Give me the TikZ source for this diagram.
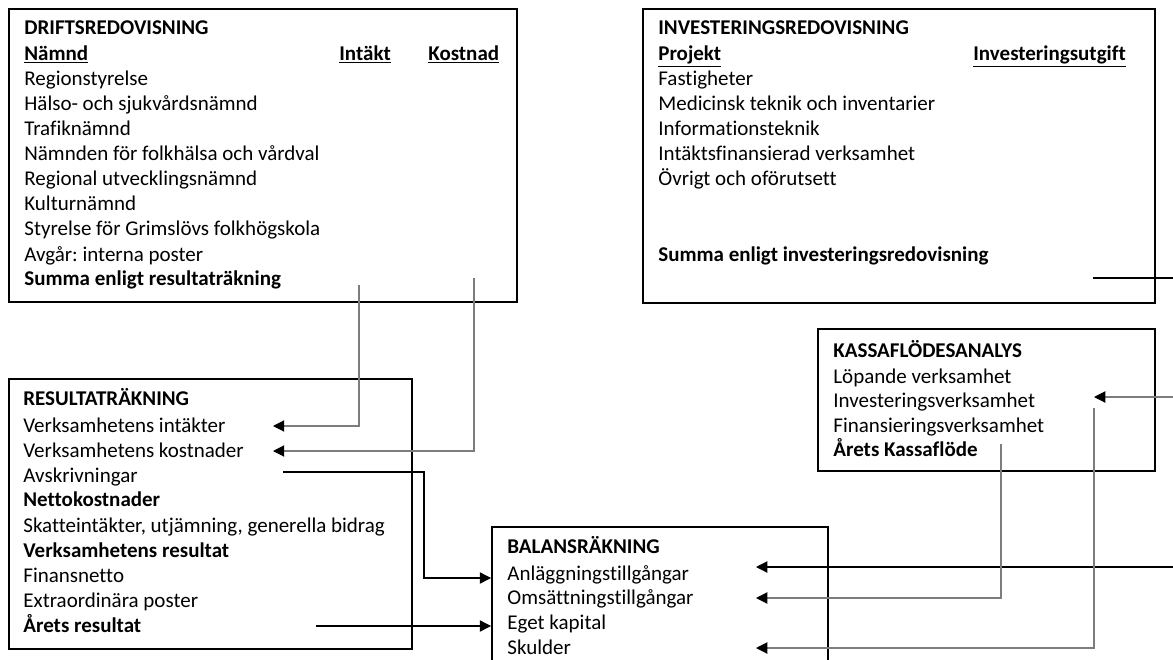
\documentclass[tikz,border=0pt]{standalone}
\usepackage{fontspec}
\setmainfont{Carlito}[Ligatures=NoCommon]
\usepackage{tikz}
\usetikzlibrary{arrows.meta,fit,calc}
\definecolor{linkgray}{RGB}{125,125,125}
\frenchspacing
\tikzset{
  panel/.style={draw=black, line width=1pt, inner sep=0pt},
  rowtxt/.style={anchor=west, inner sep=0pt, text height=7.5pt, text depth=1pt, font=\fontsize{11.2pt}{13pt}\selectfont},
  headtxt/.style={rowtxt, font=\fontsize{11.2pt}{13pt}\selectfont\bfseries},
  blackline/.style={line width=0.6pt, draw=black},
  blackarrow/.style={-{Triangle[length=6pt,width=6pt]}, line width=0.6pt, draw=black},
  grayarrow/.style={-{Triangle[length=6pt,width=6pt,color=black]}, line width=0.6pt, draw=linkgray}
}
\begin{document}
\begin{tikzpicture}[x=0.01875cm, y=-0.01875cm]
  \path[use as bounding box, clip] (0,0) rectangle (1173,659);
  % boxes
  \node[panel, fit={(9,9) (517,302)}] (drift) {};
  \node[panel, fit={(643,9) (1155,303)}] (inv) {};
  \node[panel, fit={(9,379) (412,649)}] (res) {};
  \node[panel, fit={(818,329) (1155,471)}] (kassa) {};
  \node[panel, fit={(492,527) (828,700)}] (bal) {};
  % driftsredovisning
  \node[headtxt] (dTitle) at (24,28) {DRIFTSREDOVISNING};
  \node[headtxt] (dNamnd) at (24,54) {\underline{Nämnd}};
  \node[headtxt] (dIntakt) at (339,54) {\underline{Intäkt}};
  \node[headtxt] (dKostnad) at (428,54) {\underline{Kostnad}};
  \node[rowtxt] (dRs) at (24,79) {Regionstyrelse};
  \node[rowtxt] (dHs) at (24,104) {Hälso- och sjukvårdsnämnd};
  \node[rowtxt] (dTn) at (24,129) {Trafiknämnd};
  \node[rowtxt] (dFh) at (24,154) {Nämnden för folkhälsa och vårdval};
  \node[rowtxt] (dRu) at (24,179) {Regional utvecklingsnämnd};
  \node[rowtxt] (dKn) at (24,204) {Kulturnämnd};
  \node[rowtxt] (dGf) at (24,229) {Styrelse för Grimslövs folkhögskola};
  \node[rowtxt] (dIp) at (24,255) {Avgår: interna poster};
  \node[headtxt] (dSum) at (24,279) {Summa enligt resultaträkning};
  % investeringsredovisning
  \node[headtxt] (iTitle) at (658,28) {INVESTERINGSREDOVISNING};
  \node[headtxt] (iProj) at (658,54) {\underline{Projekt}};
  \node[headtxt] (iUtg) at (973,54) {\underline{Investeringsutgift}};
  \node[rowtxt] (iFa) at (658,79) {Fastigheter};
  \node[rowtxt] (iMt) at (658,104) {Medicinsk teknik och inventarier};
  \node[rowtxt] (iIt) at (658,129) {Informationsteknik};
  \node[rowtxt] (iIv) at (658,154) {Intäktsfinansierad verksamhet};
  \node[rowtxt] (iOo) at (658,179) {Övrigt och oförutsett};
  \node[headtxt] (iSum) at (658,255) {Summa enligt investeringsredovisning};
  % resultaträkning
  \node[headtxt] (rTitle) at (23,399) {RESULTATRÄKNING};
  \node[rowtxt] (rInt) at (23,426) {Verksamhetens intäkter};
  \node[rowtxt] (rKost) at (23,451) {Verksamhetens kostnader};
  \node[rowtxt] (rAvs) at (23,476) {Avskrivningar};
  \node[headtxt] (rNetto) at (23,500) {Nettokostnader};
  \node[rowtxt] (rSkatt) at (23,526) {Skatteintäkter, utjämning, generella bidrag};
  \node[headtxt] (rVres) at (23,551) {Verksamhetens resultat};
  \node[rowtxt] (rFin) at (23,576) {Finansnetto};
  \node[rowtxt] (rExtra) at (23,601) {Extraordinära poster};
  \node[headtxt] (rAres) at (23,626) {Årets resultat};
  % kassaflödesanalys
  \node[headtxt] (kTitle) at (833,351) {KASSAFLÖDESANALYS};
  \node[rowtxt] (kLop) at (833,377) {Löpande verksamhet};
  \node[rowtxt] (kInv) at (833,401) {Investeringsverksamhet};
  \node[rowtxt] (kFin) at (833,426) {Finansieringsverksamhet};
  \node[headtxt] (kAr) at (833,450) {Årets Kassaflöde};
  % balansräkning
  \node[headtxt] (bTitle) at (507,547) {BALANSRÄKNING};
  \node[rowtxt] (bAnl) at (507,574) {Anläggningstillgångar};
  \node[rowtxt] (bOms) at (507,598) {Omsättningstillgångar};
  \node[rowtxt] (bEget) at (507,623) {Eget kapital};
  \node[rowtxt] (bSku) at (507,648) {Skulder};
  % connector ends
  \coordinate (dIn) at (359,285);
  \coordinate (dCost) at (474,278);
  \coordinate (rTip) at (273,0);
  \coordinate (avs) at (283,472);
  \coordinate (avsKnee) at (424,578);
  \coordinate (ars) at (316,626);
  \coordinate (invS) at (1093,278);
  \coordinate (edge) at (1190,0);
  \coordinate (kTip) at (1094,397);
  \coordinate (kfS) at (1001,444);
  \coordinate (kvS) at (1094,408);
  \coordinate (bTip) at (756,0);
  \coordinate (aTip) at (756,567);
  % connectors
  \draw[grayarrow] (dIn) |- (rInt -| rTip);
  \draw[grayarrow] (dCost) |- (rKost -| rTip);
  \draw[blackarrow] (avs) -| (avsKnee) -- (avsKnee -| bal.west);
  \draw[blackarrow] (ars) -- (ars -| bal.west);
  \draw[blackline] (invS) -- (invS -| edge);
  \draw[grayarrow] (kTip -| edge) -- (kTip);
  \draw[blackarrow] (aTip -| edge) -- (aTip);
  \draw[grayarrow] (kfS) |- (bOms -| bTip);
  \draw[grayarrow] (kvS) |- (bSku -| bTip);
\end{tikzpicture}
\end{document}
